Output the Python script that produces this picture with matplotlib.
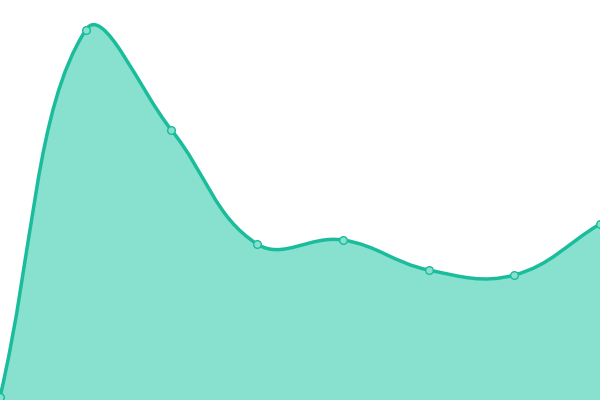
import matplotlib
matplotlib.use("Agg")
import matplotlib.pyplot as plt
from matplotlib.path import Path
from matplotlib.patches import PathPatch
import numpy as np

# values (y axis 0..400, hidden)
labels = ["A", "B", "C", "D", "E", "F", "G", "H"]
values = [3, 370, 270, 156, 160, 130, 125, 176]

LINE = "#1abc9c"
FILL = "#88e0cf"
TENSION = 0.4

fig = plt.figure(figsize=(6, 4), dpi=100)
ax = fig.add_axes([0, 0, 1, 1])
ax.set_xlim(0, len(values) - 1)
ax.set_ylim(0, 400)
ax.axis("off")

# work in pixel space so the spline matches a canvas-style curve
pts = ax.transData.transform(np.column_stack([np.arange(len(values)), values]))


def control_points(prev, cur, nxt, t):
   d01 = np.hypot(*(cur - prev))
   d12 = np.hypot(*(nxt - cur))
   tot = d01 + d12
   s01 = d01 / tot if tot else 0
   s12 = d12 / tot if tot else 0
   fa = t * s01
   fb = t * s12
   return cur - fa * (nxt - prev), cur + fb * (nxt - prev)


ctrl = []
n = len(pts)
for i in range(n):
   prev = pts[i - 1] if i > 0 else pts[i]
   nxt = pts[i + 1] if i < n - 1 else pts[i]
   ctrl.append(control_points(prev, pts[i], nxt, TENSION))

verts = [pts[0]]
codes = [Path.MOVETO]
for i in range(n - 1):
   verts += [ctrl[i][1], ctrl[i + 1][0], pts[i + 1]]
   codes += [Path.CURVE4] * 3

inv = ax.transData.inverted()
verts = inv.transform(np.array(verts))

fill_verts = list(verts) + [(n - 1, 0), (0, 0), verts[0]]
fill_codes = codes + [Path.LINETO, Path.LINETO, Path.CLOSEPOLY]
ax.add_patch(PathPatch(Path(fill_verts, fill_codes), facecolor=FILL, edgecolor="none"))
ax.add_patch(PathPatch(Path(verts, codes), facecolor="none", edgecolor=LINE, lw=2.5,
                       capstyle="round", joinstyle="round"))

ax.plot(range(n), values, "o", ms=5.5, mfc=FILL, mec=LINE, mew=1, clip_on=False)

fig.savefig("out.png", dpi=100)
